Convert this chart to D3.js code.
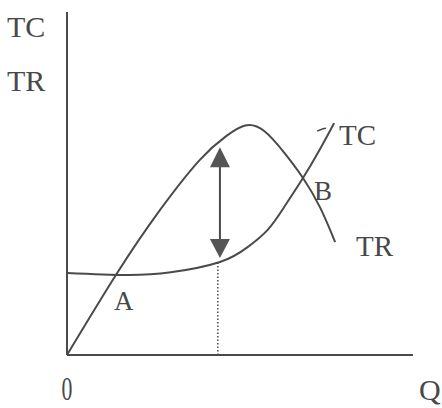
<!DOCTYPE html>
<html>
<head>
<meta charset="utf-8">
<script src="https://cdn.jsdelivr.net/npm/d3@7"></script>
<style>
  body { margin: 0; background: #fff; }
  text { font-family: "Liberation Serif", "DejaVu Serif", serif; fill: #484848; }
</style>
</head>
<body>
<div id="chart"></div>
<script>
// quantity (0-100) and money (0-100) in arbitrary chart units
let trQ = [0, 14.5, 26.9, 38.4, 46, 51.5, 57, 63, 68.2, 73.1, 77.5];
let trV = [0, 23.9, 42.3, 56.9, 63.8, 66.9, 65.3, 58.7, 51.6, 43.1, 32.9];

let tcQ = [0, 17, 30, 44.2, 52, 58, 63, 68.2, 73.1, 77.2];
let tcV = [23.9, 23.3, 24.1, 27.1, 31.3, 36.5, 43.5, 51.6, 60, 67.6];

// max profit gap
let gapQ = 44.2;
let gapTop = 60.6;
let gapBottom = 28.3;
let dottedQ = 43.6;
let dottedTop = 27.0;

let width = 442, height = 408;
let ink = "#4a4a4a";

let svg = d3.select("#chart").append("svg")
    .attr("width", width)
    .attr("height", height);

let xScale = d3.scaleLinear().domain([0, 100]).range([67, 413]);
let yScale = d3.scaleLinear().domain([0, 100]).range([355, 12]);

let line = d3.line()
    .x(function(d) { return xScale(d[0]); })
    .y(function(d) { return yScale(d[1]); })
    .curve(d3.curveNatural);

let trData = trQ.map(function(q, i) { return [q, trV[i]]; });
let tcData = tcQ.map(function(q, i) { return [q, tcV[i]]; });

// axes
svg.append("line")
    .attr("x1", xScale(0)).attr("y1", yScale(0))
    .attr("x2", xScale(0)).attr("y2", yScale(100))
    .attr("stroke", ink).attr("stroke-width", 2);
svg.append("line")
    .attr("x1", xScale(0)).attr("y1", yScale(0))
    .attr("x2", xScale(100)).attr("y2", yScale(0))
    .attr("stroke", ink).attr("stroke-width", 2);

// dotted drop line
svg.append("line")
    .attr("x1", xScale(dottedQ)).attr("y1", yScale(0))
    .attr("x2", xScale(dottedQ)).attr("y2", yScale(dottedTop))
    .attr("stroke", ink).attr("stroke-width", 1.5)
    .attr("stroke-dasharray", "1.5,2");

// curves
svg.append("path").datum(trData)
    .attr("d", line)
    .attr("fill", "none").attr("stroke", ink).attr("stroke-width", 2);
svg.append("path").datum(tcData)
    .attr("d", line)
    .attr("fill", "none").attr("stroke", ink).attr("stroke-width", 2);

// little hook at top of TC
let tcEnd = tcData[tcData.length - 1];
svg.append("path")
    .attr("d", "M" + (xScale(tcEnd[0]) - 8) + "," + (yScale(tcEnd[1]) + 5)
        + " q-3,0 -9,3")
    .attr("fill", "none").attr("stroke", ink).attr("stroke-width", 1.5);

// double arrow
let ax = xScale(gapQ);
let yTop = yScale(gapTop), yBot = yScale(gapBottom);
svg.append("line")
    .attr("x1", ax).attr("y1", yTop + 15)
    .attr("x2", ax).attr("y2", yBot - 15)
    .attr("stroke", ink).attr("stroke-width", 2);
svg.append("path")
    .attr("d", "M" + ax + "," + yTop + " L" + (ax + 10) + "," + (yTop + 20)
        + " L" + (ax - 10) + "," + (yTop + 20) + "Z")
    .attr("fill", "#555");
svg.append("path")
    .attr("d", "M" + ax + "," + yBot + " L" + (ax + 10) + "," + (yBot - 19)
        + " L" + (ax - 10) + "," + (yBot - 19) + "Z")
    .attr("fill", "#555");

// labels
svg.append("text").attr("x", 7).attr("y", 37).attr("font-size", 30).text("TC");
svg.append("text").attr("x", 7).attr("y", 91).attr("font-size", 30).text("TR");
svg.append("text").attr("x", 339).attr("y", 145).attr("font-size", 29).text("TC");
svg.append("text").attr("x", 356).attr("y", 256).attr("font-size", 29).text("TR");
svg.append("text").attr("x", 314).attr("y", 200).attr("font-size", 27).text("B");
svg.append("text").attr("x", 114).attr("y", 310).attr("font-size", 27).text("A");
svg.append("text").attr("font-size", 33)
    .attr("transform", "translate(" + (xScale(0) - 5.5) + ",400) scale(0.66,1)")
    .text("0");
svg.append("text").attr("x", 419).attr("y", 400).attr("font-size", 30).text("Q");
</script>
</body>
</html>
